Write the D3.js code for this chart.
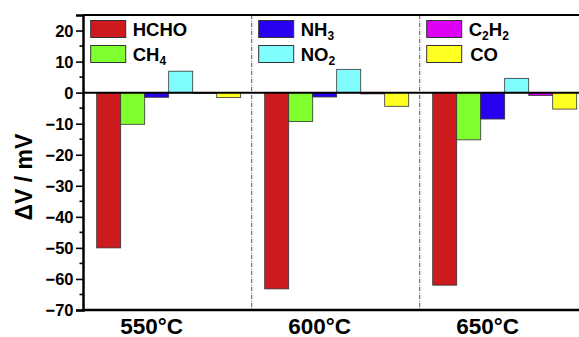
<!DOCTYPE html>
<html>
<head>
<meta charset="utf-8">
<script src="https://cdn.jsdelivr.net/npm/d3@7"></script>
<style>
  body { margin: 0; background: #fff; }
  text { font-family: "Liberation Sans", Arial, sans-serif; font-weight: bold; }
</style>
</head>
<body>
<div id="chart"></div>
<script>
// data
const temps = ["550°C", "600°C", "650°C"];
const gases = ["HCHO", "CH4", "NH3", "NO2", "C2H2", "CO"];
const HCHO = [-50, -63.2, -62];
const CH4 = [-10.2, -9.3, -15.2];
const NH3 = [-1.5, -1.4, -8.5];
const NO2 = [6.9, 7.5, 4.6];
const C2H2 = [-0.2, -0.4, -0.9];
const CO = [-1.6, -4.4, -5.3];
const yTicks = [20, 10, 0, -10, -20, -30, -40, -50, -60, -70];

const series = { HCHO, CH4, NH3, NO2, C2H2, CO };
const colors = {
  HCHO: "#cc1a1f", CH4: "#80ff2e", NH3: "#2a00f0",
  NO2: "#80fdff", C2H2: "#dd00f2", CO: "#ffff22"
};
const legendLabels = {
  HCHO: ["HCHO"], CH4: ["CH", "4"], NH3: ["NH", "3"],
  NO2: ["NO", "2"], C2H2: ["C", "2", "H", "2"], CO: ["CO"]
};

const W = 579, H = 337;
const mLeft = 83, mTop = 15, mBottom = 310;

const svg = d3.select("#chart").append("svg")
  .attr("width", W).attr("height", H);

const y = d3.scaleLinear().domain([-70, 25]).range([mBottom, mTop]);

// groups are 168 px wide, the plot runs out past the right edge
const x = d3.scaleBand().domain(temps).range([84.7, 84.7 + 168 * 3]).padding(0);
const xb = d3.scaleBand().domain(gases)
  .range([0, x.bandwidth()]).paddingInner(0).paddingOuter(12 / 24);

// group dividers (dash-dot)
svg.selectAll(".divider")
  .data(temps.slice(1))
  .join("line")
  .attr("x1", d => x(d) - 1).attr("x2", d => x(d) - 1)
  .attr("y1", mTop).attr("y2", mBottom)
  .attr("stroke", "#555").attr("stroke-width", 1)
  .attr("stroke-dasharray", "4,1.5,1,1.5");

// bars
const rows = [];
temps.forEach((t, i) => {
  gases.forEach(g => rows.push({ t: t, g: g, v: series[g][i] }));
});

svg.selectAll(".bar")
  .data(rows)
  .join("rect")
  .attr("x", d => x(d.t) + xb(d.g))
  .attr("width", xb.bandwidth())
  .attr("y", d => y(Math.max(0, d.v)))
  .attr("height", d => Math.abs(y(d.v) - y(0)))
  .attr("fill", d => colors[d.g])
  .attr("stroke", "#333")
  .attr("stroke-width", 0.8);

// zero line
svg.append("line")
  .attr("x1", mLeft).attr("x2", W)
  .attr("y1", y(0)).attr("y2", y(0))
  .attr("stroke", "#000").attr("stroke-width", 2);

// frame: top and bottom
svg.append("line")
  .attr("x1", mLeft).attr("x2", W).attr("y1", mTop).attr("y2", mTop)
  .attr("stroke", "#000").attr("stroke-width", 2);
svg.append("line")
  .attr("x1", mLeft).attr("x2", W).attr("y1", mBottom).attr("y2", mBottom)
  .attr("stroke", "#000").attr("stroke-width", 2.5);

// y axis
const yAxis = svg.append("g")
  .attr("transform", `translate(${mLeft},0)`)
  .call(d3.axisLeft(y).tickValues(yTicks).tickSize(7).tickPadding(2.5).tickFormat(d3.format("d")));
yAxis.select(".domain").attr("stroke-width", 2.5);
yAxis.selectAll(".tick line").attr("stroke-width", 1.6);
yAxis.selectAll(".tick text").style("font-size", "16.5px").attr("dy", "0.36em");

// minor ticks
svg.selectAll(".minor")
  .data(d3.range(-65, 25, 10))
  .join("line")
  .attr("x1", mLeft - 3.5).attr("x2", mLeft)
  .attr("y1", d => y(d)).attr("y2", d => y(d))
  .attr("stroke", "#000").attr("stroke-width", 1.6);

// x labels
svg.selectAll(".xlab")
  .data(temps)
  .join("text")
  .attr("x", d => x(d) + x.bandwidth() / 2 - 17)
  .attr("y", 333.5)
  .attr("text-anchor", "middle")
  .style("font-size", "22.5px")
  .text(d => d);

// y label
svg.append("text")
  .attr("transform", "translate(32,177) rotate(-90)")
  .attr("text-anchor", "middle")
  .style("font-size", "23px")
  .text("ΔV / mV");

// legend
const legendOrder = [["HCHO", "CH4"], ["NH3", "NO2"], ["C2H2", "CO"]];
legendOrder.forEach((col, ci) => {
  col.forEach((g, ri) => {
    const lx = 90.7 + 168 * ci, ly = 20.5 + 25 * ri;
    svg.append("rect")
      .attr("x", lx).attr("y", ly)
      .attr("width", 35).attr("height", 17)
      .attr("fill", colors[g]).attr("stroke", "#333").attr("stroke-width", 1);
    const t = svg.append("text")
      .attr("x", lx + 42 + (g === "CO" ? 1.5 : 0)).attr("y", ly + 15.5)
      .style("font-size", "18.5px");
    legendLabels[g].forEach((s, k) => {
      const sub = k % 2 === 1;
      t.append("tspan")
        .attr("dy", sub ? 4 : (k > 0 ? -4 : 0))
        .style("font-size", sub ? "12px" : "18.5px")
        .text(s);
    });
  });
});
</script>
</body>
</html>
